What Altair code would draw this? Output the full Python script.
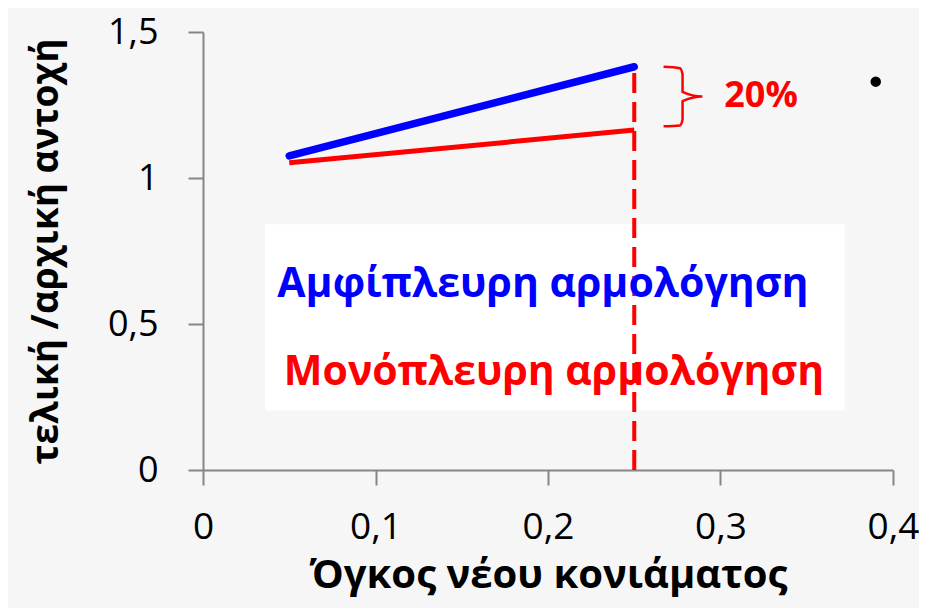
import altair as alt
import pandas as pd

# ---- data ----
x_vals = [0.05, 0.25]
blue_y = [1.076, 1.381]      # Αμφίπλευρη αρμολόγηση
red_y = [1.052, 1.164]       # Μονόπλευρη αρμολόγηση
x_ticks = [0, 0.1, 0.2, 0.3, 0.4]
y_ticks = [0, 0.5, 1, 1.5]

vline_x = 0.25
vline_top = 1.376

legend_labels = ["Αμφίπλευρη αρμολόγηση", "Μονόπλευρη αρμολόγηση"]
legend_colors = ["#0000ff", "#ff0000"]
legend_x = [0.197, 0.2035]
legend_y = [0.635, 0.333]
box_x = [0.036, 0.372]
box_y = [0.204, 0.842]

bracket_x = [0.267, 0.2765, 0.278, 0.278, 0.2895, 0.278, 0.278, 0.2765, 0.267]
bracket_y = [1.381, 1.376, 1.355, 1.295, 1.279, 1.263, 1.200, 1.180, 1.177]
pct_text = "20%"
pct_x = 0.3235
pct_y = 1.282

dot_x = [0.390]
dot_y = [1.330]

FONT = "Open Sans"

x_scale = alt.Scale(domain=[0, 0.4], nice=False, zero=False)
y_scale = alt.Scale(domain=[0, 1.5], nice=False, zero=False)

x_axis = alt.Axis(values=x_ticks, labelExpr="replace(format(datum.value, '.1~f'), '.', ',')",
                  grid=False, domainColor="#868686", tickColor="#868686", domainWidth=2, tickWidth=2,
                  tickSize=15, labelPadding=24, labelFontSize=37, labelFont=FONT, labelColor="black",
                  labelFlush=False,
                  title="Όγκος νέου κονιάματος", titleFont=FONT, titleFontSize=40, titleFontWeight="bold",
                  titleColor="black", titlePadding=10)
y_axis = alt.Axis(values=y_ticks, labelExpr="replace(format(datum.value, '.1~f'), '.', ',')",
                  grid=False, domainColor="#868686", tickColor="#868686", domainWidth=2, tickWidth=2,
                  tickSize=15, labelPadding=30, labelFontSize=36, labelFont=FONT, labelColor="black",
                  labelFlush=False,
                  title="τελική /αρχική αντοχή", titleFont=FONT, titleFontSize=37, titleFontWeight="bold",
                  titleColor="black", titlePadding=42)

box_df = pd.DataFrame({"x": [box_x[0]], "x2": [box_x[1]], "y": [box_y[0]], "y2": [box_y[1]]})
box = alt.Chart(box_df).mark_rect(color="white").encode(
    x=alt.X("x:Q", scale=x_scale, axis=x_axis), x2="x2:Q",
    y=alt.Y("y:Q", scale=y_scale, axis=y_axis), y2="y2:Q")

vdf = pd.DataFrame({"x": [vline_x], "y": [0], "y2": [vline_top]})
vline = alt.Chart(vdf).mark_rule(color="#ff0000", strokeWidth=4, strokeDash=[20, 9]).encode(
    x="x:Q", y="y:Q", y2="y2:Q")

red_df = pd.DataFrame({"x": x_vals, "y": red_y})
red_line = alt.Chart(red_df).mark_line(color="#ff0000", strokeWidth=5).encode(x="x:Q", y="y:Q")

blue_df = pd.DataFrame({"x": x_vals, "y": blue_y})
blue_line = alt.Chart(blue_df).mark_line(color="#0000ff", strokeWidth=7.5, strokeCap="round").encode(
    x="x:Q", y="y:Q")

br_df = pd.DataFrame({"x": bracket_x, "y": bracket_y, "o": list(range(len(bracket_x)))})
bracket = alt.Chart(br_df).mark_line(color="#ff0000", strokeWidth=2.5, interpolate="monotone").encode(
    x="x:Q", y="y:Q", order="o:Q")

pct_df = pd.DataFrame({"x": [pct_x], "y": [pct_y], "t": [pct_text]})
pct = alt.Chart(pct_df).mark_text(color="#ff0000", font=FONT, fontSize=36, fontWeight="bold",
                                  align="center", baseline="middle").encode(x="x:Q", y="y:Q", text="t:N")

leg_df = pd.DataFrame({"x": legend_x, "y": legend_y, "t": legend_labels, "c": legend_colors})
leg = alt.Chart(leg_df).mark_text(font=FONT, fontSize=41, fontWeight="bold",
                                  align="center", baseline="middle").encode(
    x="x:Q", y="y:Q", text="t:N", color=alt.Color("c:N", scale=None))

dot_df = pd.DataFrame({"x": dot_x, "y": dot_y})
dot = alt.Chart(dot_df).mark_point(filled=True, color="black", size=110, opacity=1).encode(x="x:Q", y="y:Q")

chart = alt.layer(box, vline, red_line, blue_line, bracket, pct, leg, dot).properties(
    width=690, height=438,
    autosize=alt.AutoSizeParams(type="none"),
    padding={"left": 195, "top": 24, "right": 26, "bottom": 138},
    background="#f6f6f6",
).configure_view(stroke=None)

chart.save("out.html", embed_options={"renderer": "svg", "actions": False})
